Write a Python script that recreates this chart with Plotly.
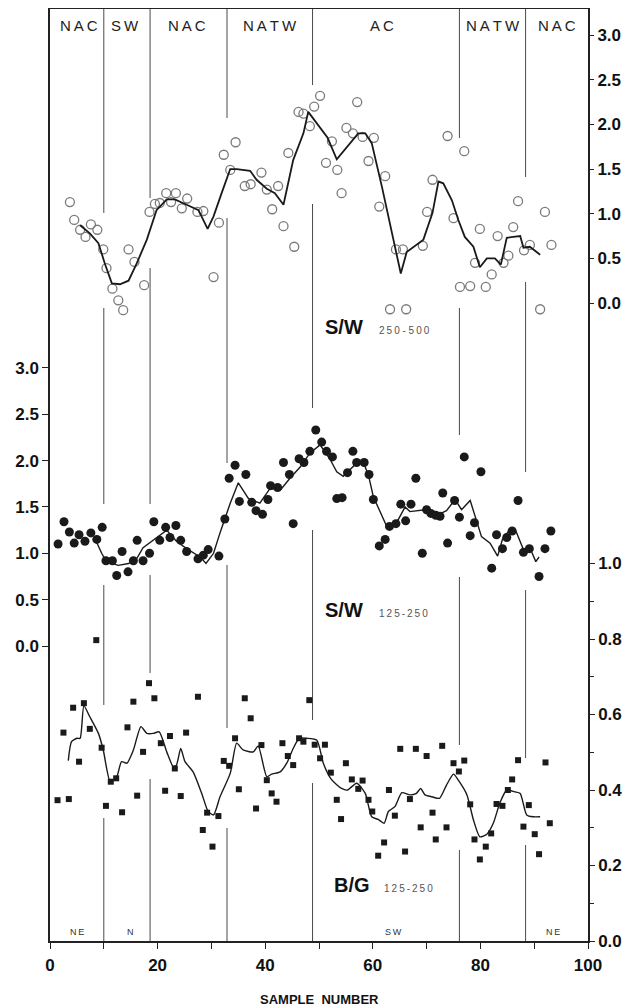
import plotly.graph_objects as go

# ---------------- data ----------------
# S/W 250-500 (open circles, top panel, right axis)
sw500_x = [3.7, 4.5, 5.6, 6.6, 7.6, 8.8, 9.9, 10.5, 11.6, 12.7, 13.6, 14.6, 15.7, 17.5, 18.5, 19.5,
           20.4, 21.6, 22.5, 23.4, 24.5, 25.5, 27.4, 28.5, 30.4, 31.4, 32.3, 33.5, 34.5, 36.2, 37.3,
           39.3, 40.3, 41.3, 42.4, 43.4, 44.3, 45.4, 46.2, 47.1, 48.3, 49.1, 50.2, 51.3, 52.4, 53.4,
           54.2, 55.1, 56.3, 57.1, 58.1, 59.2, 60.2, 61.2, 62.3, 63.2, 64.3, 65.6, 66.2, 69.3, 70.1,
           71.1, 73.9, 75.0, 76.2, 77.0, 78.1, 79.0, 79.9, 81.0, 82.1, 83.2, 84.3, 85.2, 86.1, 87.0,
           88.1, 89.2, 91.1, 92.0, 93.2]
sw500_y = [1.13, 0.93, 0.82, 0.74, 0.88, 0.82, 0.60, 0.39, 0.16, 0.03, -0.08, 0.60, 0.46, 0.20, 1.02, 1.11,
           1.12, 1.23, 1.13, 1.23, 1.06, 1.17, 1.02, 1.03, 0.29, 0.90, 1.66, 1.49, 1.80, 1.31, 1.33,
           1.46, 1.27, 1.05, 1.31, 0.86, 1.68, 0.63, 2.14, 2.12, 1.98, 2.20, 2.32, 1.57, 1.81, 1.49,
           1.23, 1.96, 1.90, 2.25, 1.86, 1.59, 1.85, 1.08, 1.42, -0.07, 0.60, 0.60, -0.07, 0.64, 1.02,
           1.38, 1.87, 0.95, 0.18, 1.70, 0.19, 0.45, 0.83, 0.18, 0.32, 0.75, 0.45, 0.53, 0.85, 1.14,
           0.59, 0.65, -0.07, 1.02, 0.65]
sw500_line_x = [5.6, 7.4, 9.0, 10.2, 11.5, 13.0, 14.6, 16.1, 18.0, 19.8, 21.7, 23.2, 25.4, 27.6, 29.3,
                30.4, 31.9, 33.5, 34.7, 37.2, 38.4, 40.3, 41.8, 43.4, 45.2, 47.1, 48.0, 50.2, 51.6,
                53.3, 55.8, 57.3, 58.6, 59.8, 61.7, 63.8, 65.2, 66.3, 69.4, 71.1, 72.2, 73.1, 74.7,
                75.9, 77.1, 78.7, 79.9, 81.2, 82.7, 83.8, 84.9, 86.1, 87.4, 88.0, 89.2, 91.1]
sw500_line_y = [0.87, 0.78, 0.67, 0.44, 0.22, 0.21, 0.25, 0.44, 0.71, 1.04, 1.16, 1.16, 1.10, 1.04, 0.83,
                0.97, 1.23, 1.50, 1.50, 1.48, 1.38, 1.28, 1.23, 1.10, 1.60, 1.90, 2.14, 1.96, 1.85,
                1.61, 1.79, 1.90, 1.90, 1.79, 1.30, 0.71, 0.33, 0.57, 0.71, 1.01, 1.36, 1.34, 1.15,
                0.93, 0.74, 0.63, 0.40, 0.50, 0.50, 0.43, 0.73, 0.74, 0.75, 0.62, 0.63, 0.54]

# S/W 125-250 (filled circles, middle panel, left axis)
sw250_x = [1.5, 2.6, 3.6, 4.5, 5.4, 6.5, 7.6, 8.7, 9.7, 10.4, 11.6, 12.4, 13.4, 14.5, 15.5, 16.2,
           17.3, 18.5, 19.3, 20.4, 21.5, 22.3, 23.4, 24.3, 25.4, 27.5, 28.5, 29.4, 31.4, 32.5, 33.3,
           34.4, 35.2, 36.4, 37.5, 38.3, 39.5, 40.5, 41.0, 42.3, 43.4, 44.5, 45.2, 46.3, 47.2, 48.3,
           49.4, 50.5, 51.4, 52.5, 53.3, 54.3, 55.3, 56.3, 57.0, 58.4, 59.3, 60.1, 61.2, 62.3, 63.1,
           64.3, 65.2, 66.1, 67.1, 68.0, 69.2, 70.0, 70.8, 71.7, 72.5, 73.0, 73.9, 75.2, 76.1, 77.0,
           78.1, 78.9, 80.1, 82.1, 83.0, 84.1, 84.9, 85.9, 87.0, 88.0, 89.1, 90.9, 92.0, 93.1]
sw250_y = [1.10, 1.34, 1.23, 1.11, 1.20, 1.13, 1.22, 1.15, 1.28, 0.92, 0.92, 0.76, 1.02, 0.80, 0.92, 1.14,
           0.92, 1.00, 1.34, 1.14, 1.28, 1.17, 1.30, 1.14, 1.02, 0.94, 0.98, 1.04, 0.97, 1.37, 1.81,
           1.95, 1.56, 1.85, 1.55, 1.46, 1.42, 1.58, 1.73, 1.71, 1.98, 1.85, 1.32, 2.02, 1.98, 2.10,
           2.33, 2.20, 2.10, 2.04, 1.59, 1.60, 1.87, 2.10, 1.98, 1.98, 1.85, 1.58, 1.08, 1.15, 1.29,
           1.32, 1.53, 1.35, 1.53, 1.81, 1.00, 1.47, 1.43, 1.41, 1.40, 1.65, 1.11, 1.57, 1.39, 2.04,
           1.19, 1.33, 1.88, 0.84, 1.20, 1.05, 1.17, 1.24, 1.57, 1.01, 1.05, 0.75, 1.05, 1.24]
sw250_line_x = [8.5, 9.6, 10.5, 12.7, 14.6, 16.1, 17.3, 19.2, 21.1, 21.7, 23.5, 25.4, 27.9, 29.0, 30.4,
                31.6, 33.5, 35.0, 36.9, 39.0, 40.9, 42.8, 44.6, 46.5, 48.3, 50.2, 52.0, 53.3, 54.5,
                55.8, 57.3, 58.2, 59.2, 60.1, 62.6, 64.7, 66.0, 66.9, 69.7, 71.9, 73.7, 75.3, 76.5,
                78.1, 79.3, 80.2, 81.8, 83.2, 84.1, 85.5, 86.6, 88.0, 89.2, 90.3, 90.9]
sw250_line_y = [1.14, 1.00, 0.91, 0.87, 0.89, 0.94, 1.06, 1.14, 1.22, 1.25, 1.13, 1.05, 0.96, 0.89, 1.00,
                1.22, 1.54, 1.76, 1.59, 1.54, 1.70, 1.68, 1.81, 1.93, 2.08, 2.17, 2.02, 1.88, 1.83,
                1.90, 1.99, 1.99, 1.84, 1.61, 1.29, 1.36, 1.50, 1.45, 1.47, 1.41, 1.46, 1.58, 1.47,
                1.57, 1.34, 1.18, 1.11, 0.97, 1.15, 1.26, 1.24, 1.04, 1.06, 0.91, 0.96]

# B/G 125-250 (filled squares, bottom panel, right axis)
bg_x = [1.4, 2.5, 3.5, 4.3, 5.4, 6.3, 7.4, 8.6, 9.6, 10.4, 11.3, 12.3, 13.4, 14.4, 15.5, 16.2, 17.3,
        18.4, 19.4, 20.6, 21.4, 22.3, 23.2, 24.3, 25.3, 27.5, 28.4, 29.2, 30.2, 31.3, 32.3, 33.3,
        34.4, 35.1, 36.2, 37.3, 38.3, 39.3, 40.3, 41.2, 42.1, 43.2, 44.2, 45.2, 46.3, 47.1, 48.2,
        49.2, 50.2, 51.1, 52.2, 53.3, 54.1, 55.0, 56.1, 57.3, 58.1, 59.2, 59.9, 61.0, 62.1, 63.0,
        64.1, 65.1, 66.0, 66.9, 68.0, 68.9, 70.0, 71.1, 71.7, 72.9, 73.7, 75.0, 76.0, 77.0, 78.1,
        78.9, 79.9, 81.0, 82.0, 83.0, 84.1, 85.1, 85.9, 87.0, 88.0, 89.0, 90.1, 90.9, 92.1, 92.9]
bg_y = [0.373, 0.552, 0.376, 0.618, 0.475, 0.630, 0.562, 0.797, 0.512, 0.358, 0.422, 0.431, 0.341,
        0.566, 0.634, 0.385, 0.501, 0.683, 0.643, 0.524, 0.398, 0.543, 0.457, 0.384, 0.552, 0.647,
        0.294, 0.340, 0.250, 0.331, 0.477, 0.464, 0.537, 0.402, 0.643, 0.590, 0.351, 0.519, 0.426,
        0.391, 0.369, 0.524, 0.490, 0.466, 0.537, 0.528, 0.638, 0.520, 0.484, 0.520, 0.446, 0.374,
        0.323, 0.471, 0.428, 0.403, 0.425, 0.374, 0.343, 0.226, 0.261, 0.400, 0.332, 0.509, 0.237,
        0.376, 0.509, 0.301, 0.490, 0.340, 0.269, 0.517, 0.301, 0.471, 0.449, 0.478, 0.362, 0.269,
        0.216, 0.250, 0.285, 0.363, 0.358, 0.400, 0.428, 0.479, 0.303, 0.360, 0.283, 0.230, 0.473,
        0.312]
bg_line_x = [3.4, 4.0, 5.0, 5.6, 6.3, 7.4, 9.0, 9.9, 11.2, 12.4, 13.3, 14.3, 15.5, 16.9, 18.0, 19.2,
             20.3, 21.7, 22.9, 23.5, 24.3, 25.1, 26.6, 28.2, 29.4, 30.4, 31.6, 33.5, 34.7, 35.9, 37.8,
             38.7, 40.3, 41.2, 42.8, 44.0, 45.2, 46.3, 47.7, 49.6, 50.8, 52.3, 54.2, 55.3, 57.0, 58.6,
             59.8, 61.0, 62.1, 62.9, 64.1, 65.4, 66.9, 68.1, 68.9, 69.7, 71.0, 72.4, 73.7, 75.0, 75.9,
             77.5, 78.7, 79.9, 81.2, 82.4, 83.6, 84.9, 86.4, 87.4, 88.6, 89.8, 91.1]
bg_line_y = [0.478, 0.528, 0.537, 0.537, 0.623, 0.594, 0.550, 0.506, 0.422, 0.435, 0.475, 0.471, 0.506,
             0.568, 0.550, 0.550, 0.554, 0.501, 0.462, 0.466, 0.510, 0.475, 0.448, 0.391, 0.343, 0.334,
             0.382, 0.444, 0.524, 0.506, 0.501, 0.517, 0.435, 0.442, 0.448, 0.471, 0.510, 0.537, 0.537,
             0.532, 0.471, 0.428, 0.404, 0.400, 0.418, 0.391, 0.329, 0.322, 0.312, 0.343, 0.356, 0.393,
             0.387, 0.391, 0.404, 0.387, 0.382, 0.378, 0.413, 0.442, 0.426, 0.387, 0.321, 0.276, 0.283,
             0.312, 0.365, 0.400, 0.395, 0.391, 0.334, 0.329, 0.329]

# water-mass boundaries (sample number) and labels
boundaries = [10.0, 18.6, 32.9, 48.8, 76.1, 88.4]
top_labels = ["NAC", "SW", "NAC", "NATW", "AC", "NATW", "NAC"]
top_label_x = [5.3, 14.0, 25.4, 40.8, 61.7, 82.3, 94.3]
bottom_labels = ["NE", "N", "SW", "NE"]
bottom_label_x = [5.0, 14.9, 63.8, 93.5]

x_ticks = list(range(0, 101, 10))
x_ticktext = [str(v) if v % 20 == 0 else "" for v in x_ticks]
sw_ticks = [0.0, 0.5, 1.0, 1.5, 2.0, 2.5, 3.0]
bg_ticks = [0.0, 0.2, 0.4, 0.6, 0.8, 1.0]
bg_minor = [0.1, 0.3, 0.5, 0.7, 0.9]

# ---------------- layout geometry ----------------
# The page body has an 8px margin, so the figure is drawn offset by (8, 8).
OFF = 8
W, H = 640 - OFF, 1008 - OFF
PL, PR, PT, PB = 50, 588, 9, 941        # plot area in page pixels
L, R, T, B = PL - OFF, W - (PR - OFF), PT - OFF, H - (PB - OFF)
ph = PB - PT
pw = PR - PL


def paper_y(py):
    return (PB - py) / ph


def data_x(px):
    return (px - PL) * 100.0 / pw


def axis_range(v0_px, px_per_unit):
    lo = -(PB - v0_px) / px_per_unit
    hi = (v0_px - PT) / px_per_unit
    return [lo, hi]


def spaced(s, sep="\u2009"):
    return sep.join(s)


range_top = axis_range(303, 89.3)
range_mid = axis_range(646, 92.7)
range_bg = axis_range(941, 377.5)

# drawn vertical segments of each boundary line (page pixel y spans)
seg_px = [
    [(9, 213), (308, 504), (585, 705), (818, 941)],
    [(9, 198), (268, 504), (575, 673), (779, 941)],
    [(9, 118), (218, 463), (565, 728), (828, 941)],
    [(9, 85), (204, 408), (530, 720), (783, 941)],
    [(9, 138), (308, 435), (577, 745), (850, 941)],
    [(9, 177), (282, 472), (590, 758), (845, 941)],
]

FONT = "Liberation Sans, Arial, Helvetica, sans-serif"
INK = "#1a1a1a"

fig = go.Figure()

fig.add_trace(go.Scatter(x=sw500_x, y=sw500_y, mode="markers", yaxis="y",
                         marker=dict(symbol="circle-open", size=9, color="#7a7a7a",
                                     line=dict(width=1.3, color="#7a7a7a")),
                         showlegend=False, hoverinfo="skip"))
fig.add_trace(go.Scatter(x=sw500_line_x, y=sw500_line_y, mode="lines", yaxis="y",
                         line=dict(color=INK, width=1.8), showlegend=False, hoverinfo="skip"))

fig.add_trace(go.Scatter(x=sw250_x, y=sw250_y, mode="markers", yaxis="y2",
                         marker=dict(symbol="circle", size=9, color=INK),
                         showlegend=False, hoverinfo="skip"))
fig.add_trace(go.Scatter(x=sw250_line_x, y=sw250_line_y, mode="lines", yaxis="y2",
                         line=dict(color=INK, width=1.4), showlegend=False, hoverinfo="skip"))

fig.add_trace(go.Scatter(x=bg_x, y=bg_y, mode="markers", yaxis="y3",
                         marker=dict(symbol="square", size=6, color=INK),
                         showlegend=False, hoverinfo="skip"))
fig.add_trace(go.Scatter(x=bg_line_x, y=bg_line_y, mode="lines", yaxis="y3",
                         line=dict(color=INK, width=1.4, shape="spline", smoothing=0.6),
                         showlegend=False, hoverinfo="skip"))

shapes = []
for bx, segs in zip(boundaries, seg_px):
    for a, b in segs:
        shapes.append(dict(type="line", xref="x", yref="paper", x0=bx, x1=bx,
                           y0=paper_y(a), y1=paper_y(b),
                           line=dict(color="#4a4a4a", width=1), layer="below"))

annotations = []
for lab, lx in zip(top_labels, top_label_x):
    annotations.append(dict(x=lx, y=paper_y(25), xref="x", yref="paper",
                            text=spaced(lab), showarrow=False,
                            font=dict(family=FONT, size=15, color="#222"),
                            xanchor="center", yanchor="middle"))
for lab, lx in zip(bottom_labels, bottom_label_x):
    annotations.append(dict(x=lx, y=paper_y(932), xref="x", yref="paper",
                            text=spaced(lab), showarrow=False,
                            font=dict(family=FONT, size=9, color="#333"),
                            xanchor="center", yanchor="middle"))

# panel labels
panel_labels = [
    ("S/W", spaced("250") + " - " + spaced("500"), 327),
    ("S/W", spaced("125-250"), 610),
    ("B/G", spaced("125-250"), 885),
]
main_x_px = [323, 323, 332]
sub_x_px = [377, 377, 382]
for (main, sub, py), mx, sx in zip(panel_labels, main_x_px, sub_x_px):
    annotations.append(dict(x=data_x(mx), y=paper_y(py), xref="x", yref="paper",
                            text="<b>%s</b>" % main, showarrow=False,
                            font=dict(family=FONT, size=20, color="#111"),
                            xanchor="left", yanchor="middle"))
    annotations.append(dict(x=data_x(sx), y=paper_y(py + 3), xref="x", yref="paper",
                            text=sub, showarrow=False,
                            font=dict(family=FONT, size=10, color="#555"),
                            xanchor="left", yanchor="middle"))

annotations.append(dict(x=0.5, y=paper_y(999), xref="paper", yref="paper",
                        text="<b>SAMPLE  NUMBER</b>", showarrow=False,
                        font=dict(family=FONT, size=13, color="#111"),
                        xanchor="center", yanchor="middle"))

tickfont = dict(family=FONT, size=17, color="#111", weight="bold")

fig.update_layout(
    width=W, height=H,
    margin=dict(l=L, r=R, t=T, b=B, autoexpand=False),
    paper_bgcolor="white", plot_bgcolor="white",
    showlegend=False,
    shapes=shapes,
    annotations=annotations,
    xaxis=dict(range=[0, 100], showgrid=False, zeroline=False,
               showline=True, linecolor="#222", linewidth=1.5, mirror=True,
               ticks="outside", ticklen=6, tickwidth=1.3, tickcolor="#222",
               tickmode="array", tickvals=x_ticks, ticktext=x_ticktext,
               tickfont=tickfont, ticklabelstandoff=2),
    yaxis=dict(range=range_top, side="right", anchor="x", showgrid=False, zeroline=False,
               showline=False, ticks="outside", ticklen=5, tickwidth=1.3, tickcolor="#222",
               tickmode="array", tickvals=sw_ticks, ticktext=["%.1f" % v for v in sw_ticks],
               tickfont=tickfont),
    yaxis2=dict(range=range_mid, side="left", overlaying="y", anchor="x", showgrid=False,
                zeroline=False, showline=True, linecolor="#222", linewidth=1.5,
                ticks="outside", ticklen=6, tickwidth=1.3, tickcolor="#222",
                tickmode="array", tickvals=sw_ticks, ticktext=["%.1f" % v for v in sw_ticks],
                tickfont=tickfont),
    yaxis3=dict(range=range_bg, side="right", overlaying="y", anchor="x", showgrid=False,
                zeroline=False, showline=True, linecolor="#222", linewidth=1.5,
                ticks="outside", ticklen=5, tickwidth=1.3, tickcolor="#222",
                tickmode="array", tickvals=bg_ticks, ticktext=["%.1f" % v for v in bg_ticks],
                tickfont=tickfont,
                minor=dict(tickmode="array", tickvals=bg_minor, ticks="outside",
                           ticklen=4, tickwidth=1.2, tickcolor="#222", showgrid=False)),
)

fig.write_html("out.html")
